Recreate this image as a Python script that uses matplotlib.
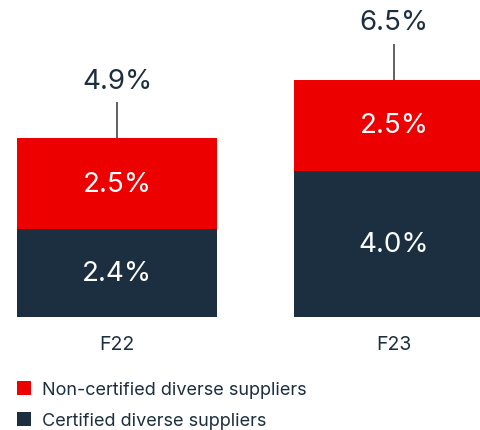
import matplotlib
matplotlib.use("Agg")
import matplotlib.pyplot as plt
from matplotlib.patches import Patch

years = ["F22", "F23"]
certified = [2.4, 4.0]
non_certified = [2.5, 2.5]
totals = [4.9, 6.5]
series_names = ["Non-certified diverse suppliers", "Certified diverse suppliers"]

RED = "#ec0000"
NAVY = "#1c2f40"
TEXT = "#1c2f40"

plt.rcParams["font.family"] = ["Inter", "DejaVu Sans"]

W, H = 480, 431
fig = plt.figure(figsize=(W / 100, H / 100), dpi=100)

# axes laid out in pixels: bars sit on y=318 px from top, 36.5 px per %
px_per_pct = 36.5
bottom_px = H - 318
ax = fig.add_axes([0, bottom_px / H, 1, 318 / H])
ax.set_ylim(0, 318 / px_per_pct)
ax.set_xlim(-117 / 277, 480 / 277 - 117 / 277)
ax.axis("off")

x = list(range(len(years)))
width = 200 / 277
ax.bar(x, certified, width=width, color=NAVY)
ax.bar(x, non_certified, width=width, bottom=certified, color=RED)

for i in x:
    ax.text(i, certified[i] / 2, f"{certified[i]:.1f}%", ha="center", va="center",
            color="white", fontsize=20)
    ax.text(i, certified[i] + non_certified[i] / 2, f"{non_certified[i]:.1f}%",
            ha="center", va="center", color="white", fontsize=20)
    ax.plot([i, i], [totals[i], totals[i] + 0.98], color="#555555", lw=1.3,
            solid_capstyle="butt")
    ax.text(i, totals[i] + 1.57, f"{totals[i]:.1f}%", ha="center", va="center",
            color=TEXT, fontsize=20)
    ax.text(i, -27 / px_per_pct, years[i], ha="center", va="center",
            color=TEXT, fontsize=14, clip_on=False)

handles = [Patch(facecolor=RED, edgecolor="none"), Patch(facecolor=NAVY, edgecolor="none")]
fig.legend(handles, series_names, loc="upper left", bbox_to_anchor=(10 / W, 1 - 375 / H),
           frameon=False, fontsize=13, labelcolor=TEXT, handlelength=0.75,
           handleheight=0.75, handletextpad=0.6, labelspacing=0.78, borderaxespad=0)

fig.savefig("out.png", dpi=100)
